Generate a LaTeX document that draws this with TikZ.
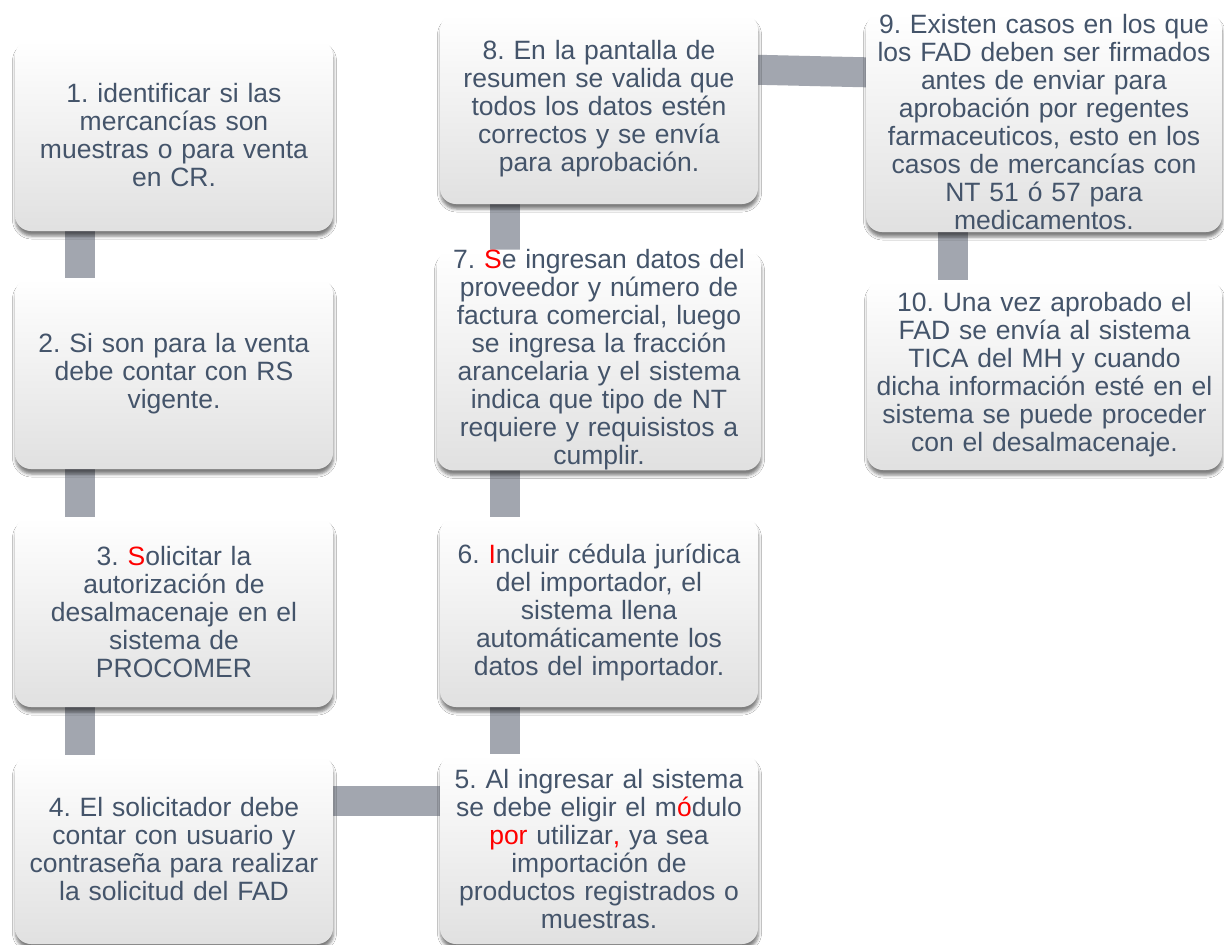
\documentclass[tikz,border=0pt]{standalone}
\usepackage{fontspec}
\setmainfont{Liberation Sans}
\usetikzlibrary{shadows.blur,backgrounds,calc}
\definecolor{txt}{HTML}{44546A}
\definecolor{conn}{HTML}{A2A6AF}
\definecolor{rd}{HTML}{FF0000}
\tikzset{
  stepbox/.style={rounded corners=16pt, top color=white, middle color=white, bottom color=black!12,
    inner sep=0pt, align=center, text=txt, font=\frenchspacing\fontsize{26.5}{28}\selectfont,
    blur shadow={shadow xshift=0.5pt, shadow yshift=-5pt, shadow blur radius=3pt, shadow blur extra rounding=2pt, shadow opacity=50}},
  link/.style={draw=conn, line width=30pt, shorten <=-6pt, shorten >=-6pt},
}
\newcommand{\rdx}[1]{\textcolor{rd}{#1}}
\begin{document}
\begin{tikzpicture}[x=1pt,y=-1pt]
\useasboundingbox (0,0) rectangle (1224,945);
% column 1
\node[stepbox, minimum width=318pt, minimum height=191pt, text width=314pt] (b1) at (174,135.5)
  {1. identificar si las\\mercancías son\\muestras o para venta\\en CR.};
\node[stepbox, minimum width=318pt, minimum height=191pt, text width=314pt] (b2) at (174,373.5)
  {2. Si son para la venta\\debe contar con RS\\vigente.};
\node[stepbox, minimum width=318pt, minimum height=190pt, text width=314pt] (b3) at (174,612)
  {3. \rdx{S}olicitar la\\autorización de\\desalmacenaje en el\\sistema de\\PROCOMER};
\node[stepbox, minimum width=318pt, minimum height=189pt, text width=314pt] (b4) at (174,849.5)
  {4. El solicitador debe\\contar con usuario y\\contraseña para realizar\\la solicitud del FAD};
% column 2
\node[stepbox, minimum width=318pt, minimum height=190pt, text width=314pt] (b5) at (599,849)
  {5. Al ingresar al sistema\\se debe eligir el m\rdx{ó}dulo\\\rdx{por} utilizar\rdx{,} ya sea\\importación de\\productos registrados o\\muestras.};
\node[stepbox, minimum width=318pt, minimum height=190pt, text width=314pt] (b6) at (599,612)
  {6. \rdx{I}ncluir cédula jurídica\\del importador, el\\sistema llena\\automáticamente los\\datos del importador.};
\node[stepbox, minimum width=324pt, minimum height=216pt, text width=320pt] (b7) at (599,360)
  {7. \rdx{S}e ingresan datos del\\proveedor y número de\\factura comercial, luego\\se ingresa la fracción\\arancelaria y el sistema\\indica que tipo de NT\\requiere y requisistos a\\cumplir.};
\node[stepbox, minimum width=318pt, minimum height=190pt, text width=314pt] (b8) at (599,109)
  {8. En la pantalla de\\resumen se valida que\\todos los datos estén\\correctos y se envía\\para aprobación.};
% column 3
\node[stepbox, minimum width=356pt, minimum height=219pt, text width=352pt] (b9) at (1044,122.5)
  {9. Existen casos en los que\\los FAD deben ser firmados\\antes de enviar para\\aprobación por regentes\\farmaceuticos, esto en los\\casos de mercancías con\\NT 51 ó 57 para\\medicamentos.};
\node[stepbox, minimum width=355pt, minimum height=190pt, text width=351pt] (b10) at (1044.5,375)
  {10. Una vez aprobado el\\FAD se envía al sistema\\TICA del MH y cuando\\dicha información esté en el\\sistema se puede proceder\\con el desalmacenaje.};
\begin{scope}[on background layer]
  \fill[white] (0,0) rectangle (1224,945);
  \draw[link] ($(b1.south west)+(65,0)$) -- ($(b2.north west)+(65,0)$);
  \draw[link] ($(b2.south west)+(65,0)$) -- ($(b3.north west)+(65,0)$);
  \draw[link] ($(b3.south west)+(65,0)$) -- ($(b4.north west)+(65,0)$);
  \draw[link] ($(b4.north east)+(0,46)$) -- ($(b5.north west)+(0,47)$);
  \draw[link] ($(b5.north west)+(65,0)$) -- ($(b6.south west)+(65,0)$);
  \draw[link] ($(b6.north west)+(65,0)$) -- ($(b7.south west)+(68,0)$);
  \draw[link] ($(b7.north west)+(68,0)$) -- ($(b8.south west)+(65,0)$);
  \draw[link] ($(b8.north east)+(0,56)$) -- ($(b9.north west)+(0,59.5)$);
  \draw[link] ($(b9.south west)+(87,0)$) -- ($(b10.north west)+(86,0)$);
\end{scope}
\end{tikzpicture}
\end{document}
